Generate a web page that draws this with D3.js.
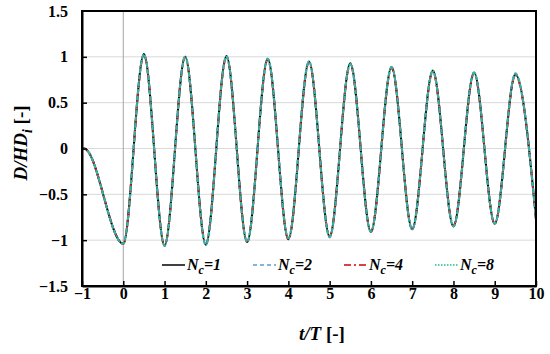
<!DOCTYPE html>
<html lang="en">
<head>
<meta charset="UTF-8">
<title>D/HDi - t/T</title>
<script src="https://d3js.org/d3.v7.min.js"></script>
<style>
  body { margin: 0; background: #fff; }
  svg text { font-family: "Liberation Serif", "Times New Roman", serif; font-weight: bold; }
</style>
</head>
<body>
<div id="chart"></div>
<script>
// t/T at start, peaks and troughs
var tT  = [-1, -0.95, 0, 0.5, 1, 1.5, 2, 2.5, 3, 3.5, 4, 4.5, 5, 5.5, 6, 6.5, 7, 7.5, 8, 8.5, 9, 9.5, 10];
// D/HDi for each Nc
var nc1 = [0, 0, -1.04, 1.03, -1.06, 1.00, -1.05, 1.01, -1.02, 0.98, -0.99, 0.95, -0.96, 0.93, -0.91, 0.89, -0.88, 0.85, -0.85, 0.83, -0.82, 0.81, -0.77];
var nc2 = [0, 0, -1.04, 1.03, -1.06, 1.00, -1.05, 1.01, -1.02, 0.98, -0.98, 0.95, -0.97, 0.92, -0.91, 0.89, -0.88, 0.84, -0.85, 0.83, -0.82, 0.82, -0.78];
var nc4 = [0, 0, -1.04, 1.02, -1.06, 1.00, -1.04, 1.00, -1.02, 0.97, -0.99, 0.94, -0.96, 0.92, -0.91, 0.88, -0.88, 0.84, -0.84, 0.82, -0.82, 0.80, -0.77];
var nc8 = [0, 0, -1.04, 1.03, -1.06, 1.00, -1.05, 1.00, -1.02, 0.98, -0.98, 0.95, -0.96, 0.93, -0.91, 0.89, -0.88, 0.85, -0.85, 0.83, -0.82, 0.81, -0.77];

var seriesNames = ["1", "2", "4", "8"];
var xTicks = [-1, 0, 1, 2, 3, 4, 5, 6, 7, 8, 9, 10];
var yTicks = [-1.5, -1, -0.5, 0, 0.5, 1, 1.5];

var serif = '"Liberation Serif", "Times New Roman", serif';
var width = 550, height = 354;
var margin = {top: 11, right: 14, bottom: 68, left: 82};

var svg = d3.select("#chart").append("svg")
  .attr("width", width)
  .attr("height", height);

var x = d3.scaleLinear().domain([-1, 10]).range([margin.left, width - margin.right]);
var y = d3.scaleLinear().domain([-1.5, 1.5]).range([height - margin.bottom, margin.top]);

// grid
svg.append("g").selectAll("line")
  .data(yTicks.filter(function(d){ return Math.abs(d) < 1.5; }))
  .enter().append("line")
  .attr("x1", x(-1)).attr("x2", x(10))
  .attr("y1", function(d){ return y(d); })
  .attr("y2", function(d){ return y(d); })
  .attr("stroke", "#d9d9d9").attr("stroke-width", 1);

svg.append("line")
  .attr("x1", x(0)).attr("x2", x(0))
  .attr("y1", y(1.5)).attr("y2", y(-1.5))
  .attr("stroke", "#a6a6a6").attr("stroke-width", 1);

// curves
var styles = [
  {name: "1", data: nc1, color: "#000000", dash: null},
  {name: "4", data: nc4, color: "#d40000", dash: "7,3,2,3"},
  {name: "2", data: nc2, color: "#5b9bd5", dash: "4,3"},
  {name: "8", data: nc8, color: "#1fc08a", dash: "1.5,1.5"}
];

var line = d3.line()
  .x(function(d){ return x(d[0]); })
  .y(function(d){ return y(d[1]); })
  .curve(d3.curveMonotoneX);

styles.forEach(function(s){
  svg.append("path")
    .datum(d3.zip(tT, s.data))
    .attr("d", line)
    .attr("fill", "none")
    .attr("stroke", s.color)
    .attr("stroke-width", 2)
    .attr("stroke-dasharray", s.dash);
});

// frame
svg.append("rect")
  .attr("x", x(-1)).attr("y", y(1.5))
  .attr("width", x(10) - x(-1)).attr("height", y(-1.5) - y(1.5))
  .attr("fill", "none").attr("stroke", "#000").attr("stroke-width", 2);

// axes
var xAxis = svg.append("g")
  .attr("transform", "translate(0," + y(-1.5) + ")")
  .call(d3.axisBottom(x).tickValues(xTicks).tickSize(-5).tickSizeOuter(0).tickPadding(2));
var yAxis = svg.append("g")
  .attr("transform", "translate(" + x(-1) + ",0)")
  .call(d3.axisLeft(y).tickValues(yTicks).tickSize(-5).tickSizeOuter(0).tickPadding(14)
    .tickFormat(d3.format("")));

[xAxis, yAxis].forEach(function(a){
  a.attr("font-family", null).attr("font-size", null);
  a.select(".domain").attr("stroke", "#000").attr("stroke-width", 2);
  a.selectAll(".tick line").attr("stroke", "#000").attr("stroke-width", 1.5);
  a.selectAll(".tick text")
    .style("font-family", serif)
    .style("font-size", "16px").style("font-weight", "bold").attr("fill", "#000");
});
yAxis.selectAll(".tick").filter(function(d){ return d === 1.5 || d === -1.5; }).select("line").remove();

// legend
var lx = d3.scalePoint().domain(seriesNames).range([162, 435]);
var ly = 265;
var leg = svg.append("g").selectAll("g")
  .data(styles)
  .enter().append("g")
  .attr("transform", function(d){ return "translate(" + lx(d.name) + "," + ly + ")"; });

leg.append("line")
  .attr("x1", 0).attr("x2", 23)
  .attr("stroke", function(d){ return d.color; })
  .attr("stroke-width", 1.5)
  .attr("stroke-dasharray", function(d){ return d.dash; });

var lt = leg.append("text")
  .attr("x", 25).attr("y", 5)
  .style("font-size", "16px").style("font-style", "italic");
lt.append("tspan").text("N");
lt.append("tspan").attr("dy", 4).style("font-size", "12px").text("c");
lt.append("tspan").attr("dy", -4).text(function(d){ return "=" + d.name; });

// axis titles
var xt = svg.append("text")
  .attr("x", 322).attr("y", 340)
  .attr("text-anchor", "middle").style("font-size", "19px");
xt.append("tspan").style("font-style", "italic").text("t/T");
xt.append("tspan").text(" [-]");

var yt = svg.append("text")
  .attr("transform", "translate(27,143) rotate(-90)")
  .attr("text-anchor", "middle").style("font-size", "19px");
yt.append("tspan").style("font-style", "italic").text("D/HD");
yt.append("tspan").style("font-style", "italic").attr("dy", 5).style("font-size", "14px").text("i");
yt.append("tspan").attr("dy", -5).text(" [-]");
</script>
</body>
</html>
